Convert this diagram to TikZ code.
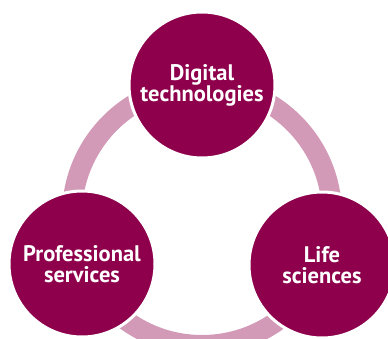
\documentclass[tikz,border=0pt]{standalone}
\usepackage{fontspec}
\setmainfont{PT Sans}
\definecolor{plum}{RGB}{142,0,76}
\definecolor{rose}{RGB}{211,154,184}
\tikzset{
  sector/.style={circle,fill=plum,draw=white,line width=3pt,minimum size=146pt,
    inner sep=0pt,text=white,align=center,font=\fontsize{22.5}{21}\selectfont\bfseries},
  loop/.style={draw=rose,line width=20pt}
}
\begin{document}
\begin{tikzpicture}[x=1pt,y=1pt]
\useasboundingbox (0,0) rectangle (388,338);
\clip (0,0) rectangle (388,338);
\coordinate (hub) at (202,123);
\draw[loop] (hub) circle (130);
\node[sector] (digital) at (202,253) {Digital\\technologies};
\node[sector] (prof) at (82,74) {Professional\\services};
\node[sector] (life) at (322,73) {Life\\sciences};
\end{tikzpicture}
\end{document}
